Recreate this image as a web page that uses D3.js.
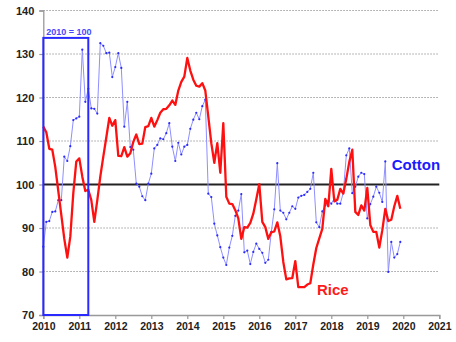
<!DOCTYPE html>
<html><head><meta charset="utf-8">
<script src="https://cdn.jsdelivr.net/npm/d3@7"></script>
<style>
html,body{margin:0;padding:0;background:#fff;}
svg{display:block;font-family:"Liberation Sans",Arial,sans-serif;}
</style></head>
<body><svg id="c" width="456" height="342"></svg>
<script>
// Monthly index values, Jan 2010 .. Dec 2019 (2010 = 100)
const startYear = 2010;
const cotton = [85.7,91.4,91.6,93.7,93.8,96.4,96.4,106.4,105.4,108.8,114.8,115.2,
  115.6,131,119,122,117.5,117.4,116.3,132.5,131.9,130.2,130.3,124.7,
  127,130.2,126.8,113.3,119,108.6,108,100.2,99.5,97.3,96.4,100.2,
  102.5,108.3,109.1,110.6,110.4,111.8,114.1,108.7,105.4,109.6,106.9,108.7,
  109.1,112.8,114.9,116.5,115,118,119.5,97.9,97.1,91,88.3,85.6,
  83.2,81.5,85.5,88.2,92.8,94,97.8,84.4,84.8,81.7,84.5,86.4,
  85.2,84.3,82,82.7,89.1,94.3,104.9,94,93.5,92,93.5,95,
  94.4,97,97.4,97.6,98.3,99,102.7,91.3,90.2,93.8,95.2,96.3,
  95.6,96.8,95.6,95.6,98.1,106.7,108.3,98,99.5,101.8,102.7,102.4,
  92.2,95.5,97.2,99.5,98.1,96,105.3,79.9,86.8,83.2,84,86.8];
const rice = [113.3,112,108.2,108,104,98.5,93,87.5,83.2,88,98,105.3,
  106,101.8,98.5,98.8,96.4,91.4,96.4,101.8,106.4,110.8,115.3,113.5,
  114.8,106.6,106.5,108.6,106.4,107.2,109.8,111.5,109.3,109.4,113.2,113.4,
  115.3,113.3,114.8,116.5,117.3,117.4,118.2,119.3,118.3,121.6,123.6,124.8,
  129.1,126.2,124.1,122.7,122.5,123.3,121.6,115.6,109.5,105,109.5,102.7,
  114.1,97.2,95.6,95.5,94.1,92.2,87.5,90.2,90.1,91.2,93.3,96.6,
  100.1,91.4,90.2,87.5,89,89.2,91.3,88.1,82.2,78.2,78.4,78.5,
  82.4,76.4,76.4,76.4,77,77.3,81.6,85.4,87.6,89.8,96.7,95,
  103.6,96.1,96.5,99,97.9,101.3,105.2,108,93.7,93,95.2,94,
  99.2,90.7,89.1,89.1,85.5,89.5,94.4,91.6,91.9,95,97.4,94.4];
const yearTicks = [2010,2011,2012,2013,2014,2015,2016,2017,2018,2019,2020,2021];
const valueTicks = [70,80,90,100,110,120,130,140];
const baseLabel = "2010 = 100";
const baseBox = {x0: 2010, x1: 2011.25, top: 133.7};
const seriesLabels = [{name:"Cotton", x:2019.68, y:103.3, color:"#1a1aff"},
                      {name:"Rice", x:2017.6, y:74.6, color:"#ff1a1a"}];

const svg = d3.select("#c");
const x = d3.scaleLinear().domain([2010, 2021]).range([43.3, 439.3]);
const y = d3.scaleLinear().domain([70, 140]).range([315, 10.5]);
const tx = i => startYear + i / 12;

// gridlines
svg.append("g").selectAll("line").data(valueTicks.filter(v => v !== 70 && v !== 100))
  .join("line")
  .attr("x1", x(2010)).attr("x2", x(2021))
  .attr("y1", d => y(d)).attr("y2", d => y(d))
  .attr("stroke", "#a0a0a0").attr("stroke-width", 1).attr("stroke-dasharray", "1.5,1.5");

// axes
const yAxis = svg.append("g").attr("transform", `translate(${x(2010)},0)`)
  .call(d3.axisLeft(y).tickValues(valueTicks).tickSize(4).tickPadding(5).tickFormat(d3.format("d")));
const xAxis = svg.append("g").attr("transform", `translate(0,${y(70)})`)
  .call(d3.axisBottom(x).tickValues(yearTicks).tickSize(4).tickPadding(4).tickFormat(d3.format("d")));
[yAxis, xAxis].forEach(g => {
  g.select(".domain").attr("stroke", "#999").attr("stroke-width", 1.3);
  g.selectAll(".tick line").attr("stroke", "#999").attr("stroke-width", 1.2);
  g.selectAll("text").attr("fill", "#222").attr("font-weight", "bold")
   .attr("font-family", "'Liberation Sans', Arial, sans-serif");
});
yAxis.selectAll("text").attr("font-size", 11);
xAxis.selectAll("text").attr("font-size", 10.5);

// 100 reference line
svg.append("line").attr("x1", x(2010)).attr("x2", x(2021))
  .attr("y1", y(100)).attr("y2", y(100))
  .attr("stroke", "#222").attr("stroke-width", 2);

// cotton
const line = d3.line().x((d, i) => x(tx(i))).y(d => y(d));
svg.append("path").datum(cotton).attr("d", line)
  .attr("fill", "none").attr("stroke", "#8f8fff").attr("stroke-width", 1);
svg.append("g").selectAll("circle").data(cotton).join("circle")
  .attr("cx", (d, i) => x(tx(i))).attr("cy", d => y(d)).attr("r", 1.1)
  .attr("fill", "#2a2aff");

// rice
svg.append("path").datum(rice).attr("d", line)
  .attr("fill", "none").attr("stroke", "#ff1010").attr("stroke-width", 2.3)
  .attr("stroke-linejoin", "round");

// base period box
svg.append("rect")
  .attr("x", x(baseBox.x0)).attr("y", y(baseBox.top))
  .attr("width", x(baseBox.x1) - x(baseBox.x0)).attr("height", y(70) - y(baseBox.top))
  .attr("fill", "none").attr("stroke", "#2a2aff").attr("stroke-width", 2);
svg.append("text").attr("x", x(baseBox.x0) + 3).attr("y", y(baseBox.top) - 3)
  .attr("font-size", 9).attr("font-weight", "bold").attr("fill", "#4848ff")
  .text(baseLabel);

// series labels
svg.append("g").selectAll("text").data(seriesLabels).join("text")
  .attr("x", d => x(d.x)).attr("y", d => y(d.y))
  .attr("font-size", 15).attr("font-weight", "bold").attr("fill", d => d.color)
  .text(d => d.name);
</script></body></html>
